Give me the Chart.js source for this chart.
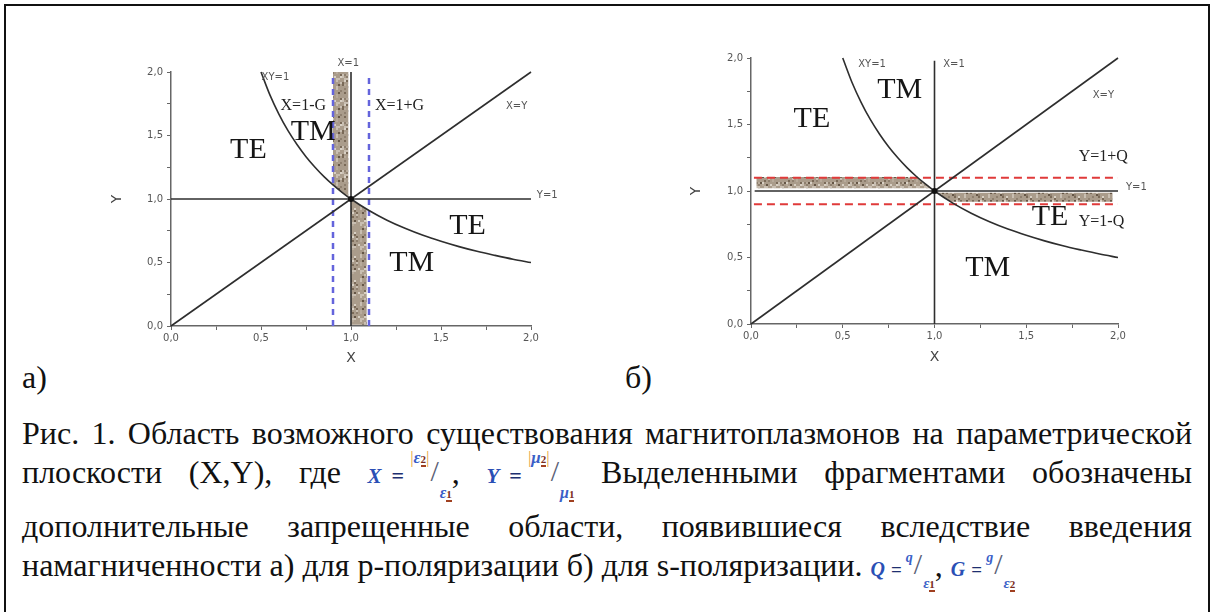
<!DOCTYPE html>
<html>
<head>
<meta charset="utf-8">
<script src="https://cdn.jsdelivr.net/npm/chart.js@4.4.0/dist/chart.umd.min.js"></script>
<style>
html, body { margin: 0; padding: 0; background: #fff; }
body { width: 1215px; height: 612px; position: relative; overflow: hidden;
       font-family: "Liberation Serif", "Times New Roman", "DejaVu Serif", serif; color: #111; }
#frame { position: absolute; left: 4px; top: 4px; width: 1206px; height: 700px;
         border: 2px solid #111; box-sizing: border-box; }
#wrapA { position: absolute; left: 100px; top: 50px; width: 480px; height: 320px; }
#wrapB { position: absolute; left: 680px; top: 38px; width: 520px; height: 332px; }
.panel { position: absolute; top: 361px; font-size: 32px; line-height: 32px;
         font-family: "Liberation Serif", "Times New Roman", serif; }
.cap { position: absolute; left: 22px; width: 1170px; font-size: 32px; line-height: 32px;
       font-family: "Liberation Serif", "Times New Roman", serif; }
.just { text-align: justify; text-align-last: justify; white-space: normal; }
.left { white-space: nowrap; }
/* inline formulas: nothing inside may change the line box */
.f, .f span { line-height: 0; position: relative; }
.f { white-space: nowrap; font-weight: bold; font-style: italic; }
.f .v  { font-size: 21px; color: #2a4fb5; }
.f .eq { font-size: 22px; color: #1e2f70; font-style: normal; margin: 0 6px 0 10px; }
.f .num { font-size: 17px; color: #3a5fc8; top: -20px; }
.f .bar { color: #e8a43a; font-style: normal; font-weight: normal; }
.f .sl  { font-size: 30px; color: #5a6075; font-style: normal; font-weight: normal; top: -2px; margin: 0 1px; }
.f .den { font-size: 16px; color: #3a5fc8; top: 15px; }
.f .sub { font-size: 11px; color: #7a2e1e; font-style: normal; border-bottom: 2px solid #a04020; }
.f.small .v { font-size: 20px; }
.f.small .eq { margin: 0 4px 0 6px; font-size: 19px; }
.f.small .num { font-size: 14px; top: -14px; }
.f.small .den { font-size: 15px; top: 12px; }
</style>
</head>
<body>
<div id="frame"></div>
<div id="wrapA"><canvas id="plotA" width="480" height="320"></canvas></div>
<div id="wrapB"><canvas id="plotB" width="520" height="332"></canvas></div>
<div class="panel" style="left:22px">а)</div>
<div class="panel" style="left:625px">б)</div>

<div class="cap just" style="top:417px">Рис. 1. Область возможного существования магнитоплазмонов на параметрической</div>
<div class="cap just" style="top:456px">плоскости (X,Y), где <span class="f"><span class="v">X</span><span class="eq">=</span><span class="num"><span class="bar">|</span>ε<span class="sub">2</span><span class="bar">|</span></span><span class="sl">/</span><span class="den">ε<span class="sub">1</span></span></span>, <span class="f"><span class="v">Y</span><span class="eq">=</span><span class="num"><span class="bar">|</span>μ<span class="sub">2</span><span class="bar">|</span></span><span class="sl">/</span><span class="den">μ<span class="sub">1</span></span></span> Выделенными фрагментами обозначены</div>
<div class="cap just" style="top:510px">дополнительные запрещенные области, появившиеся вследствие введения</div>
<div class="cap left" style="top:549px">намагниченности а) для p-поляризации б) для s-поляризации. <span class="f small"><span class="v">Q</span><span class="eq">=</span><span class="num">q</span><span class="sl">/</span><span class="den">ε<span class="sub">1</span></span></span>, <span class="f small"><span class="v">G</span><span class="eq">=</span><span class="num">g</span><span class="sl">/</span><span class="den">ε<span class="sub">2</span></span></span></div>

<script>
// ---- Axis ticks ----
const axisMin = 0;
const axisMax = 2;
const tickStep = 0.25;
const labelStep = 0.5;

// ---- Boundary curves (shared by both panels) ----
const hyperX = [0.5, 0.55, 0.6, 0.65, 0.7, 0.75, 0.8, 0.85, 0.9, 0.95, 1.0,
                1.1, 1.2, 1.3, 1.4, 1.5, 1.6, 1.7, 1.8, 1.9, 2.0];
const hyperY = [2.0, 1.818, 1.667, 1.538, 1.429, 1.333, 1.25, 1.176, 1.111, 1.053, 1.0,
                0.909, 0.833, 0.769, 0.714, 0.667, 0.625, 0.588, 0.556, 0.526, 0.5];
const diagX = [0, 2];
const diagY = [0, 2];
const crossX = [1];
const crossY = [1];

// ---- Panel а: p-polarization ----
const vertAX = [1, 1];
const vertAY = [0, 2.0];
const horizAX = [0, 2];
const horizAY = [1, 1];
const gMinusX = [0.9, 0.9];
const gMinusY = [0, 1.96];
const gPlusX = [1.1, 1.1];
const gPlusY = [0, 1.96];
const stripAUpperX = [0.90, 0.90, 0.92, 0.94, 0.96, 0.985, 0.985];
const stripAUpperY = [2.02, 1.111, 1.087, 1.064, 1.042, 1.015, 2.02];
const stripALowerX = [1.0, 1.0, 1.03, 1.06, 1.087, 1.087];
const stripALowerY = [0.01, 1.0, 0.971, 0.943, 0.92, 0.01];

// ---- Panel б: s-polarization ----
const vertBX = [1, 1];
const vertBY = [0, 1.98];
const horizBX = [0.02, 2];
const horizBY = [1, 1];
const qPlusX = [0.016, 2];
const qPlusY = [1.1, 1.1];
const qMinusX = [0.016, 2];
const qMinusY = [0.9, 0.9];
const stripBUpperX = [0.03, 0.03, 0.905, 0.93, 0.96, 0.98];
const stripBUpperY = [1.02, 1.105, 1.105, 1.075, 1.042, 1.02];
const stripBLowerX = [1.0, 1.03, 1.06, 1.087, 1.97, 1.97];
const stripBLowerY = [0.987, 0.971, 0.943, 0.92, 0.92, 0.987];

// ---- Text labels placed in data coordinates ----
const labelsA = [
  { text: 'XY=1',  x: 0.58, y: 1.955, kind: 'small' },
  { text: 'X=1',   x: 0.985, y: 2.07, kind: 'small' },
  { text: 'X=1-G', x: 0.735, y: 1.73, kind: 'mid' },
  { text: 'X=1+G', x: 1.27, y: 1.73, kind: 'mid' },
  { text: 'X=Y',   x: 1.92, y: 1.73, kind: 'small' },
  { text: 'Y=1',   x: 2.09, y: 1.026, kind: 'small' },
  { text: 'TM',    x: 0.79, y: 1.53, kind: 'big' },
  { text: 'TE',    x: 0.43, y: 1.386, kind: 'big' },
  { text: 'TE',    x: 1.647, y: 0.787, kind: 'big' },
  { text: 'TM',    x: 1.337, y: 0.496, kind: 'big' }
];
const labelsB = [
  { text: 'XY=1',  x: 0.66, y: 1.95, kind: 'small' },
  { text: 'X=1',   x: 1.106, y: 1.95, kind: 'small' },
  { text: 'X=Y',   x: 1.92, y: 1.72, kind: 'small' },
  { text: 'Y=1+Q', x: 1.92, y: 1.258, kind: 'mid' },
  { text: 'Y=1',   x: 2.1, y: 1.025, kind: 'small' },
  { text: 'Y=1-Q', x: 1.91, y: 0.77, kind: 'mid' },
  { text: 'TM',    x: 0.81, y: 1.76, kind: 'big' },
  { text: 'TE',    x: 0.332, y: 1.54, kind: 'big' },
  { text: 'TE',    x: 1.63, y: 0.807, kind: 'big' },
  { text: 'TM',    x: 1.29, y: 0.42, kind: 'big' }
];

const labelFonts = {
  small: { font: '10px "DejaVu Sans", Verdana, sans-serif', color: '#555' },
  mid:   { font: '16px "Liberation Serif", "Times New Roman", serif', color: '#222' },
  big:   { font: '30px "Liberation Serif", "Times New Roman", serif', color: '#151515' }
};

// Grainy brown texture used for the forbidden strips
function makeGrain() {
  const c = document.createElement('canvas');
  c.width = 24; c.height = 24;
  const g = c.getContext('2d');
  g.fillStyle = '#aa9c8b';
  g.fillRect(0, 0, 24, 24);
  const tones = ['#7a6a58', '#c9bfb2', '#8f806f', '#b8ab9b', '#655646', '#d8d0c4'];
  for (let y = 0; y < 24; y += 2) {
    for (let x = 0; x < 24; x += 2) {
      const h = (x * 73 + y * 151 + x * y * 7 + (x ^ y) * 13) % 19;
      if (h < tones.length) {
        g.fillStyle = tones[h];
        g.fillRect(x, y, 2, 2);
      }
    }
  }
  return g.createPattern(c, 'repeat');
}

function pts(xs, ys) { return xs.map((x, i) => ({ x: x, y: ys[i] })); }

function fmtTick(v) {
  const r = v / labelStep;
  if (Math.abs(r - Math.round(r)) > 1e-6) return '';
  return v.toFixed(1).replace('.', ',');
}

const textLabels = {
  id: 'textLabels',
  afterDatasetsDraw(chart, args, opts) {
    const ctx = chart.ctx;
    const xs = chart.scales.x, ys = chart.scales.y;
    ctx.save();
    ctx.textAlign = 'center';
    ctx.textBaseline = 'middle';
    (opts.items || []).forEach(l => {
      const st = labelFonts[l.kind];
      ctx.font = st.font;
      ctx.fillStyle = st.color;
      ctx.fillText(l.text, xs.getPixelForValue(l.x), ys.getPixelForValue(l.y));
    });
    ctx.restore();
  }
};

const LINE = '#2e2e2e';
const AXIS = '#666';
const SANS = '"DejaVu Sans", Verdana, sans-serif';

function lineSet(xs, ys, extra) {
  return Object.assign({
    data: pts(xs, ys), borderColor: LINE, borderWidth: 1.6, pointRadius: 0,
    showLine: true, fill: false, order: 2, clip: false
  }, extra || {});
}

function stripSet(xs, ys, grain) {
  return {
    data: pts(xs, ys), borderColor: 'rgba(0,0,0,0)', borderWidth: 0, pointRadius: 0,
    showLine: true, fill: 'shape', backgroundColor: grain, order: 10, clip: false
  };
}

function scaleOpts(axis, fit, titlePad) {
  return {
    type: 'linear', min: axisMin, max: axisMax,
    afterFit: fit,
    border: { display: true, color: AXIS, width: 1.5 },
    grid: { display: true, drawOnChartArea: false, drawTicks: true, tickLength: 4, color: AXIS, lineWidth: 1 },
    ticks: {
      stepSize: tickStep, autoSkip: false, maxRotation: 0, padding: axis === 'y' ? 4 : 2,
      color: '#555', font: { family: SANS, size: 10 },
      callback: fmtTick
    },
    title: {
      display: true, text: axis === 'y' ? 'Y' : 'X', color: '#444',
      font: { family: SANS, size: 14 },
      padding: titlePad
    }
  };
}

function makeChart(id, datasets, labels, pad, xHeight, titlePadX, titlePadY) {
  return new Chart(document.getElementById(id), {
    type: 'scatter',
    data: { datasets: datasets },
    options: {
      responsive: false, animation: false, devicePixelRatio: 1,
      layout: { padding: pad },
      scales: {
        x: scaleOpts('x', s => { s.height = xHeight; }, titlePadX),
        y: scaleOpts('y', s => { s.width = 71; }, titlePadY)
      },
      elements: { line: { tension: 0 } },
      plugins: { legend: { display: false }, tooltip: { enabled: false }, textLabels: { items: labels } }
    },
    plugins: [textLabels]
  });
}

const grain = makeGrain();
const curve = { cubicInterpolationMode: 'monotone' };
const dot = { pointRadius: 3, pointBackgroundColor: '#111', pointBorderWidth: 0, showLine: false, order: 0 };

makeChart('plotA', [
  stripSet(stripAUpperX, stripAUpperY, grain),
  stripSet(stripALowerX, stripALowerY, grain),
  lineSet(gMinusX, gMinusY, { borderColor: '#6464dc', borderWidth: 2.5, borderDash: [6, 5], order: 5 }),
  lineSet(gPlusX, gPlusY, { borderColor: '#6464dc', borderWidth: 2.5, borderDash: [6, 5], order: 5 }),
  lineSet(hyperX, hyperY, curve),
  lineSet(diagX, diagY),
  lineSet(vertAX, vertAY),
  lineSet(horizAX, horizAY),
  lineSet(crossX, crossY, dot)
], labelsA, { top: 22, right: 49, left: 0, bottom: 0 }, 44, { top: 0, bottom: 3 }, { top: 9, bottom: 0 });

makeChart('plotB', [
  stripSet(stripBUpperX, stripBUpperY, grain),
  stripSet(stripBLowerX, stripBLowerY, grain),
  lineSet(qPlusX, qPlusY, { borderColor: '#e03a3a', borderWidth: 2, borderDash: [8, 5], order: 5 }),
  lineSet(qMinusX, qMinusY, { borderColor: '#e03a3a', borderWidth: 2, borderDash: [8, 5], order: 5 }),
  lineSet(hyperX, hyperY, curve),
  lineSet(diagX, diagY),
  lineSet(vertBX, vertBY),
  lineSet(horizBX, horizBY),
  lineSet(crossX, crossY, dot)
], labelsB, { top: 20, right: 82, left: 0, bottom: 0 }, 46, { top: 0, bottom: 4 }, { top: 8, bottom: 0 });
</script>
</body>
</html>
